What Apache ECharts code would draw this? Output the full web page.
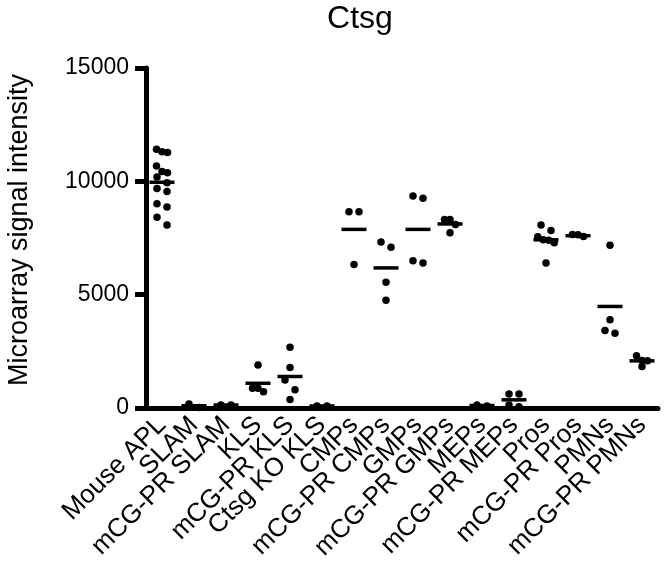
<!DOCTYPE html>
<html><head><meta charset="utf-8">
<script src="https://cdn.jsdelivr.net/npm/echarts@6/dist/echarts.min.js"></script>
<style>html,body{margin:0;padding:0;background:#fff}#c{width:664px;height:578px}</style>
</head><body><div id="c"></div>
<script>
const categories = ['Mouse APL','SLAM','mCG-PR SLAM','KLS','mCG-PR KLS','Ctsg KO KLS','CMPs','mCG-PR CMPs','GMPs','mCG-PR GMPs','MEPs','mCG-PR MEPs','Pros','mCG-PR Pros','PMNs','mCG-PR PMNs'];
const mouseAPL = [11420, 11300, 11270, 10680, 10430, 10380, 10190, 9940, 9680, 9550, 9010, 8870, 8420, 8070];
const slam = [180, 20];
const mcgSlam = [130, 130];
const kls = [1900, 870, 870, 720];
const mcgKls = [2680, 1790, 1240, 800, 380];
const koKls = [90, 90];
const cmps = [8660, 8660, 6330];
const mcgCmps = [7320, 7090, 5550, 4750];
const gmps = [9350, 9250, 6500, 6400];
const mcgGmps = [8320, 8320, 8100, 7730];
const meps = [130, 90];
const mcgMeps = [620, 620, 130, 60];
const pros = [8070, 7830, 7550, 7420, 7400, 7290, 6400];
const mcgPros = [7650, 7640, 7570];
const pmns = [7180, 3890, 3420, 3300];
const mcgPmns = [2300, 2100, 2080, 1830];
const means = [9960, 100, 130, 1090, 1390, 90, 7880, 6180, 7880, 8120, 110, 360, 7420, 7600, 4480, 2080];
const yTicks = [0, 5000, 10000, 15000];

const groups = [mouseAPL, slam, mcgSlam, kls, mcgKls, koKls, cmps, mcgCmps, gmps, mcgGmps, meps, mcgMeps, pros, mcgPros, pmns, mcgPmns];

const FONT = 'Liberation Sans, Arial, sans-serif';
const chart = echarts.init(document.getElementById('c'), null, {renderer: 'canvas'});

function dotData(offsets) {
  const out = [];
  groups.forEach((g, i) => {
    g.forEach((v, j) => {
      out.push({value: [i, v], symbolOffset: offsets ? [offsets[i][j], 0] : [0, 0]});
    });
  });
  return out;
}

const option = {
  animation: false,
  backgroundColor: '#fff',
  title: {
    text: 'Ctsg', left: 355, top: -2, textAlign: 'center',
    textStyle: {fontFamily: FONT, fontSize: 32, fontWeight: 'normal', color: '#000'}
  },
  graphic: [{
    type: 'text', x: 6, y: 230, rotation: Math.PI / 2,
    style: {text: 'Microarray signal intensity', font: '27px ' + FONT, fill: '#000',
      textAlign: 'center', textVerticalAlign: 'top'}
  }],
  grid: {left: 146, right: 6, top: 68, bottom: 170, containLabel: false},
  xAxis: {
    type: 'category', data: categories, boundaryGap: true,
    axisLine: {lineStyle: {color: '#000', width: 5}},
    axisTick: {alignWithLabel: true, length: 11, lineStyle: {color: '#000', width: 5}},
    axisLabel: {rotate: 45, interval: 0, margin: 13, color: '#000', fontFamily: FONT, fontSize: 26},
    splitLine: {show: false}
  },
  yAxis: {
    type: 'value', min: 0, max: 15000, interval: 5000,
    axisLine: {show: true, lineStyle: {color: '#000', width: 5}},
    axisTick: {show: true, length: 11, lineStyle: {color: '#000', width: 5}},
    axisLabel: {color: '#000', fontFamily: FONT, fontSize: 23, margin: 17,
      formatter: v => yTicks.indexOf(v) >= 0 ? String(v) : ''},
    splitLine: {show: false}
  },
  series: [
    {
      type: 'scatter', name: 'mean', symbol: 'rect', symbolSize: [25, 3.5],
      itemStyle: {color: '#000', opacity: 1}, z: 3,
      data: means.map((m, i) => [i, m])
    },
    {
      type: 'scatter', name: 'dots', symbol: 'circle', symbolSize: 7.5,
      itemStyle: {color: '#000', opacity: 1}, z: 4,
      data: dotData(null)
    }
  ]
};
chart.setOption(option);

// beeswarm-like layout: rows of points close in pixel space spread horizontally
const ROW = 10;
const offsets = groups.map(g => {
  const idx = g.map((v, j) => j).sort((a, b) => g[b] - g[a]);
  const px = g.map(v => chart.convertToPixel({yAxisIndex: 0}, v));
  const res = new Array(g.length).fill(0);
  let k = 0;
  while (k < idx.length) {
    const row = [idx[k]];
    let m = k + 1;
    while (m < idx.length && Math.abs(px[idx[m]] - px[idx[k]]) < ROW) { row.push(idx[m]); m++; }
    const n = row.length;
    if (n > 1) {
      const half = Math.max(5, 5.5 * (n - 1) / 2);
      row.forEach((r, q) => { res[r] = -half + 2 * half * q / (n - 1); });
    }
    k = m;
  }
  return res;
});
chart.setOption({series: [{}, {data: dotData(offsets)}]});
</script>
</body></html>
